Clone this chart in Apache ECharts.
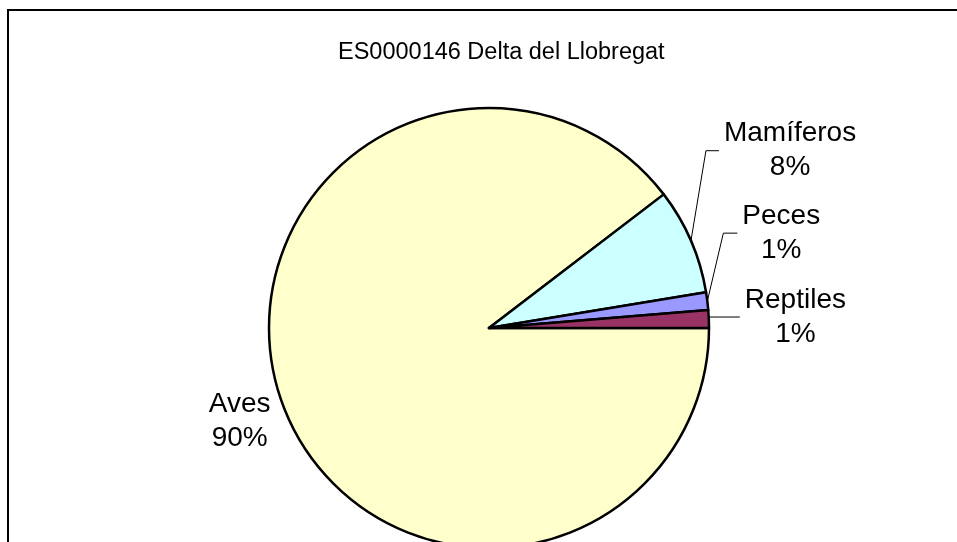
<!DOCTYPE html>
<html>
<head>
<meta charset="utf-8">
<script src="https://cdn.jsdelivr.net/npm/echarts@6/dist/echarts.min.js"></script>
<style>
  html, body { margin: 0; padding: 0; background: #ffffff; }
  #chart { width: 957px; height: 542px; }
</style>
</head>
<body>
<div id="chart"></div>
<script>
// ---- Data ----
var titleText = 'ES0000146 Delta del Llobregat';
var categories = ['Aves', 'Mamíferos', 'Peces', 'Reptiles'];
var values = [69, 6, 1, 1];
var colors = ['#FFFFCC', '#CCFFFF', '#9999FF', '#993366'];

// ---- Label placement (elbow offset from slice edge, horizontal leg length) ----
var labelElbow = {
  'Mamíferos': [15, -90, 13],
  'Peces': [16, -68, 14],
  'Reptiles': [0, -2, 31]
};

var total = values.reduce(function (a, b) { return a + b; }, 0);
var fontFam = '"Liberation Sans", Arial, sans-serif';

var seriesData = categories.map(function (name, i) {
  var item = {
    name: name,
    value: values[i],
    itemStyle: { color: colors[i] }
  };
  if (name === 'Aves') {
    item.labelLine = { show: false, length: 0, length2: 0 };
  }
  return item;
});

var chart = echarts.init(document.getElementById('chart'), null, { renderer: 'canvas' });

chart.setOption({
  backgroundColor: '#ffffff',
  animation: false,
  title: {
    text: titleText,
    left: 333,
    top: 36,
    textStyle: { fontFamily: fontFam, fontSize: 23.5, fontWeight: 'normal', color: '#000000' }
  },
  graphic: [{
    type: 'rect',
    shape: { x: 8, y: 10, width: 1200, height: 1000 },
    style: { fill: 'none', stroke: '#000000', lineWidth: 2 },
    silent: true,
    z: 100
  }],
  series: [{
    type: 'pie',
    center: [489, 328],
    radius: 220,
    startAngle: 0,
    clockwise: true,
    avoidLabelOverlap: false,
    emphasis: { disabled: true },
    itemStyle: { borderColor: '#000000', borderWidth: 2.5 },
    label: {
      show: true,
      position: 'outside',
      color: '#000000',
      formatter: function (p) {
        var pct = Math.round(p.value / total * 100);
        return '{c|' + p.name + '}\n{c|' + pct + '%}';
      },
      rich: {
        c: { align: 'center', fontFamily: fontFam, fontSize: 28, lineHeight: 34, color: '#000000' }
      }
    },
    labelLine: {
      show: true,
      length: 10,
      length2: 10,
      lineStyle: { color: '#000000', width: 1 }
    },
    labelLayout: function (params) {
      var name = categories[params.dataIndex];
      if (name === 'Aves') {
        var r = params.labelRect;
        return {
          x: r.x + r.width - 5,
          y: r.y + r.height / 2 + 23,
          align: 'right',
          verticalAlign: 'middle'
        };
      }
      var pts = params.labelLinePoints;
      var e = labelElbow[name];
      if (!pts || !e) return {};
      var p0 = pts[0];
      var p1 = [p0[0] + e[0], p0[1] + e[1]];
      var p2 = [p1[0] + e[2], p1[1]];
      return {
        x: p2[0] + 5,
        y: p2[1],
        align: 'left',
        verticalAlign: 'middle',
        labelLinePoints: [[p0[0], p0[1]], p1, p2]
      };
    },
    data: seriesData
  }]
});
</script>
</body>
</html>
